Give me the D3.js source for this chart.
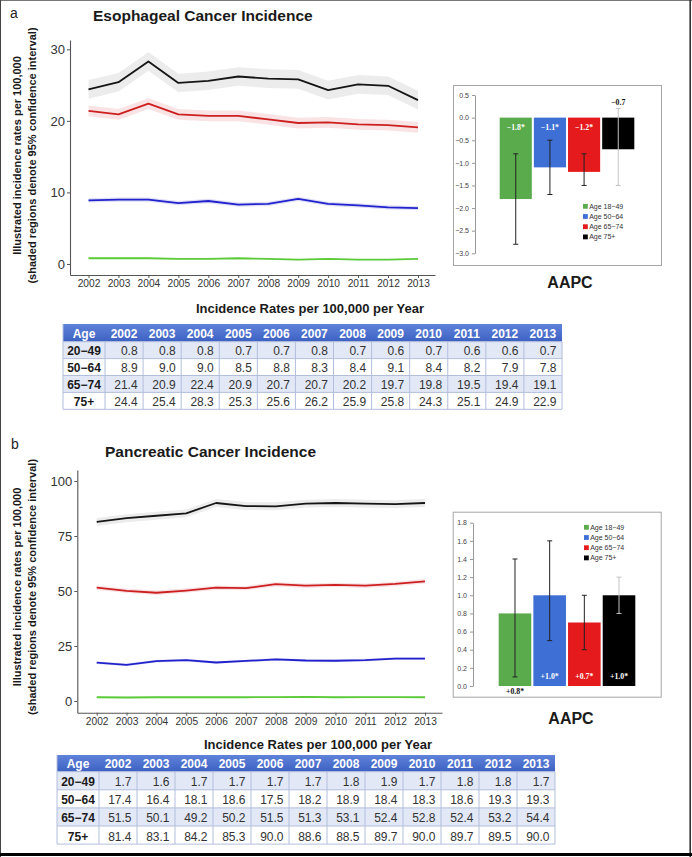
<!DOCTYPE html>
<html><head><meta charset="utf-8">
<script src="https://cdn.jsdelivr.net/npm/d3@7"></script>
<style>
html,body{margin:0;padding:0;background:#fff;}
svg{display:block;font-family:"Liberation Sans",Arial,sans-serif;}
</style></head><body>
<svg id="chart" width="692" height="857"></svg>
<script>
// ---------- DATA ----------
const years = [2002, 2003, 2004, 2005, 2006, 2007, 2008, 2009, 2010, 2011, 2012, 2013];
const ageGroups = ["20\u221249", "50\u221264", "65\u221274", "75+"];
const aapcGroups = ["Age 18\u221249", "Age 50\u221264", "Age 65\u221274", "Age 75+"];

// Esophageal incidence per 100,000
const esoAge20 = [0.8, 0.8, 0.8, 0.7, 0.7, 0.8, 0.7, 0.6, 0.7, 0.6, 0.6, 0.7];
const esoAge50 = [8.9, 9.0, 9.0, 8.5, 8.8, 8.3, 8.4, 9.1, 8.4, 8.2, 7.9, 7.8];
const esoAge65 = [21.4, 20.9, 22.4, 20.9, 20.7, 20.7, 20.2, 19.7, 19.8, 19.5, 19.4, 19.1];
const esoAge75 = [24.4, 25.4, 28.3, 25.3, 25.6, 26.2, 25.9, 25.8, 24.3, 25.1, 24.9, 22.9];
const esoCIhalf = [0.1, 0.3, 0.75, 1.3];
const esoYTicks = [0, 10, 20, 30];

// Pancreatic incidence per 100,000
const pancAge20 = [1.7, 1.6, 1.7, 1.7, 1.7, 1.7, 1.8, 1.9, 1.7, 1.8, 1.8, 1.7];
const pancAge50 = [17.4, 16.4, 18.1, 18.6, 17.5, 18.2, 18.9, 18.4, 18.3, 18.6, 19.3, 19.3];
const pancAge65 = [51.5, 50.1, 49.2, 50.2, 51.5, 51.3, 53.1, 52.4, 52.8, 52.4, 53.2, 54.4];
const pancAge75 = [81.4, 83.1, 84.2, 85.3, 90.0, 88.6, 88.5, 89.7, 90.0, 89.7, 89.5, 90.0];
const pancCIhalf = [0.3, 0.6, 1.0, 1.8];
const pancYTicks = [0, 25, 50, 75, 100];

// AAPC
const esoAAPC = [-1.8, -1.1, -1.2, -0.7];
const esoAAPCLow = [-2.8, -1.7, -1.5, -1.5];
const esoAAPCHigh = [-0.8, -0.5, -0.8, 0.2];
const esoAAPCText = ["\u22121.8*", "\u22121.1*", "\u22121.2*", "\u22120.7"];
const esoAAPCTicks = [0.5, 0.0, -0.5, -1.0, -1.5, -2.0, -2.5, -3.0];

const pancAAPC = [0.8, 1.0, 0.7, 1.0];
const pancAAPCLow = [0.1, 0.5, 0.4, 0.8];
const pancAAPCHigh = [1.4, 1.6, 1.0, 1.2];
const pancAAPCText = ["+0.8*", "+1.0*", "+0.7*", "+1.0*"];
const pancAAPCTicks = [0.0, 0.2, 0.4, 0.6, 0.8, 1.0, 1.2, 1.4, 1.6, 1.8];

// ---------- STYLES ----------
const lineColors = ["#5ccb3a", "#2222cc", "#cc2020", "#151515"];
const bandColors = ["#e6f6e0", "#dedef7", "#f9e3e5", "#ececec"];
const barColors = ["#5aab4c", "#3e6fd5", "#e41a1c", "#000000"];
const errColors = ["#222", "#222", "#222", "#c4c4c4"];

const svg = d3.select("#chart");
svg.append("rect").attr("width", 692).attr("height", 857).attr("fill", "#fff");

function linePanel(cfg) {
  const g = svg.append("g");
  const x = d3.scaleLinear().domain(cfg.xDomain).range(cfg.xRange);
  const y = d3.scaleLinear().domain(cfg.yDomain).range(cfg.yRange);

  g.append("text").attr("x", cfg.letterPos[0]).attr("y", cfg.letterPos[1])
    .attr("font-size", 14).attr("fill", "#222").text(cfg.letter);
  g.append("text").attr("x", cfg.titlePos[0]).attr("y", cfg.titlePos[1])
    .attr("font-size", 15.5).attr("font-weight", "bold").attr("fill", "#1a1a1a").text(cfg.title);

  cfg.series.forEach((vals, i) => {
    const pts = years.map((yr, j) => [yr, vals[j]]);
    const h = cfg.ci[i];
    g.append("path")
      .attr("d", d3.area().x(d => x(d[0])).y0(d => y(d[1] - h)).y1(d => y(d[1] + h))(pts))
      .attr("fill", bandColors[i]);
  });
  cfg.series.forEach((vals, i) => {
    const pts = years.map((yr, j) => [yr, vals[j]]);
    g.append("path")
      .attr("d", d3.line().x(d => x(d[0])).y(d => y(d[1]))(pts))
      .attr("fill", "none").attr("stroke", lineColors[i]).attr("stroke-width", 1.8)
      .attr("stroke-linejoin", "round");
  });

  const xa = g.append("g").attr("transform", `translate(0,${cfg.yRange[0]})`)
    .call(d3.axisBottom(x).tickValues(years).tickFormat(d3.format("d"))
      .tickSize(3).tickSizeOuter(0).tickPadding(2));
  const ya = g.append("g").attr("transform", `translate(${cfg.xRange[0]},0)`)
    .call(d3.axisLeft(y).tickValues(cfg.yTicks).tickFormat(d3.format("d"))
      .tickSize(3).tickSizeOuter(0).tickPadding(2));
  [xa, ya].forEach(a => {
    a.select(".domain").attr("stroke", "#555").attr("stroke-width", 1.1);
    a.selectAll(".tick line").attr("stroke", "#555");
    a.selectAll(".tick text").attr("fill", "#333").attr("font-family", "Liberation Sans, Arial, sans-serif");
  });
  xa.selectAll(".tick text").attr("font-size", 10.2);
  ya.selectAll(".tick text").attr("font-size", 13);

  const yl = g.append("g").attr("font-size", 11).attr("font-weight", "bold").attr("fill", "#1a1a1a")
    .attr("text-anchor", "middle");
  yl.append("text").attr("transform", `translate(${cfg.ylabX[0]},${cfg.ylabY}) rotate(-90)`)
    .text("Illustrated incidence rates per 100,000");
  yl.append("text").attr("transform", `translate(${cfg.ylabX[1]},${cfg.ylabY}) rotate(-90)`)
    .text("(shaded regions denote 95% confidence interval)");
}

function aapcBox(cfg) {
  const g = svg.append("g");
  const b = cfg.box;
  g.append("rect").attr("x", b.x + 0.5).attr("y", b.y + 0.5).attr("width", b.w).attr("height", b.h)
    .attr("fill", "#fff").attr("stroke", "#a6a6a6").attr("stroke-width", 1);
  const y = d3.scaleLinear().domain(b.yDomain).range(b.yRange);
  const x = d3.scaleBand().domain(aapcGroups).range(b.bandRange).paddingInner(0.06).paddingOuter(0.02);
  const ya = g.append("g").attr("transform", `translate(${b.axisX},0)`)
    .call(d3.axisLeft(y).tickValues(cfg.ticks).tickFormat(d3.format(".1f")).tickSize(3).tickSizeOuter(0).tickPadding(3));
  ya.select(".domain").attr("stroke", "#999");
  ya.selectAll(".tick line").attr("stroke", "#999");
  ya.selectAll(".tick text").attr("fill", "#444").attr("font-size", 7)
    .attr("font-family", "Liberation Sans, Arial, sans-serif");

  const zero = y(0);
  aapcGroups.forEach((grp, i) => {
    const v = cfg.values[i];
    g.append("rect").attr("x", x(grp)).attr("width", x.bandwidth())
      .attr("y", Math.min(y(v), zero)).attr("height", Math.abs(y(v) - zero))
      .attr("fill", barColors[i]);
  });
  aapcGroups.forEach((grp, i) => {
    const cx = x(grp) + x.bandwidth() / 2;
    const lo = y(cfg.low[i]), hi = y(cfg.high[i]);
    const eg = g.append("g").attr("stroke", errColors[i]).attr("stroke-width", 1);
    eg.append("line").attr("x1", cx).attr("x2", cx).attr("y1", lo).attr("y2", hi);
    eg.append("line").attr("x1", cx - 2.5).attr("x2", cx + 2.5).attr("y1", lo).attr("y2", lo);
    eg.append("line").attr("x1", cx - 2.5).attr("x2", cx + 2.5).attr("y1", hi).attr("y2", hi);
  });
  aapcGroups.forEach((grp, i) => {
    const cx = x(grp) + x.bandwidth() / 2;
    const pos = cfg.labelPos[i];
    let ty, col;
    if (pos === "inTop") { ty = zero + 12; col = "#fff"; }
    else if (pos === "inBottom") { ty = zero - 7.5; col = "#fff"; }
    else if (pos === "above") { ty = y(cfg.high[i]) - 4; col = "#111"; }
    else { ty = zero + 8; col = "#111"; }
    g.append("text").attr("x", cx).attr("y", ty).attr("text-anchor", "middle")
      .attr("font-family", "Liberation Serif, Times New Roman, serif").attr("font-weight", "bold")
      .attr("font-size", 7.8).attr("fill", col).text(cfg.text[i]);
  });
  const lg = g.append("g").attr("font-size", 7).attr("fill", "#333");
  aapcGroups.forEach((grp, i) => {
    const ly = cfg.legend[1] + i * 10.2;
    lg.append("rect").attr("x", cfg.legend[0]).attr("y", ly - 4.6).attr("width", 4.8).attr("height", 4.8)
      .attr("fill", barColors[i]);
    lg.append("text").attr("x", cfg.legend[0] + 6.2).attr("y", ly).text(grp);
  });
  g.append("text").attr("x", cfg.aapcTitle[0]).attr("y", cfg.aapcTitle[1]).attr("text-anchor", "middle")
    .attr("font-size", 16).attr("font-weight", "bold").attr("fill", "#1a1a1a").text("AAPC");
}

function rateTable(cfg) {
  const t = cfg.table;
  const g = svg.append("g");
  g.append("text").attr("x", cfg.tableTitle[0]).attr("y", cfg.tableTitle[1]).attr("text-anchor", "middle")
    .attr("font-size", 13).attr("font-weight", "bold").attr("fill", "#1a1a1a")
    .text("Incidence Rates per 100,000 per Year");
  const colW = (t.w - t.firstW) / years.length;
  const colX = i => t.x0 + t.firstW + i * colW;
  const right = t.x0 + t.w;
  const grad = svg.append("defs").append("linearGradient").attr("id", "hg" + cfg.letter)
    .attr("x1", 0).attr("y1", 0).attr("x2", 0).attr("y2", 1);
  grad.append("stop").attr("offset", 0).attr("stop-color", "#5f83da");
  grad.append("stop").attr("offset", 1).attr("stop-color", "#3d61c2");
  g.append("rect").attr("x", t.x0).attr("y", t.y0).attr("width", t.w).attr("height", t.headH)
    .attr("fill", `url(#hg${cfg.letter})`);
  const rowTop = r => t.y0 + t.headH + r * t.rowH;
  cfg.series.forEach((vals, r) => {
    g.append("rect").attr("x", t.x0).attr("y", rowTop(r)).attr("width", t.w).attr("height", t.rowH)
      .attr("fill", r % 2 === 0 ? "#e2e8f6" : "#ffffff");
  });
  const grid = g.append("g").attr("stroke", "#b3bedc").attr("stroke-width", 1);
  for (let r = 0; r <= cfg.series.length; r++) {
    grid.append("line").attr("x1", t.x0).attr("x2", right).attr("y1", rowTop(r)).attr("y2", rowTop(r));
  }
  grid.append("line").attr("x1", t.x0).attr("x2", t.x0).attr("y1", t.y0).attr("y2", rowTop(cfg.series.length));
  for (let i = 0; i <= years.length; i++) {
    grid.append("line").attr("x1", colX(i)).attr("x2", colX(i)).attr("y1", t.y0 + t.headH).attr("y2", rowTop(cfg.series.length));
  }
  const ht = g.append("g").attr("font-size", 12).attr("font-weight", "bold").attr("fill", "#fff").attr("text-anchor", "middle");
  ht.append("text").attr("x", t.x0 + t.firstW / 2).attr("y", t.y0 + t.headH - 3.5).text("Age");
  years.forEach((yr, i) => ht.append("text").attr("x", colX(i) + colW / 2).attr("y", t.y0 + t.headH - 3.5).text(yr));
  const fmt = d3.format(".1f");
  cfg.series.forEach((vals, r) => {
    const by = rowTop(r) + t.rowH - 3.6;
    g.append("text").attr("x", t.x0 + t.firstW / 2).attr("y", by).attr("text-anchor", "middle")
      .attr("font-size", 12).attr("font-weight", "bold").attr("fill", "#1a1a1a").text(ageGroups[r]);
    vals.forEach((v, i) => {
      g.append("text").attr("x", colX(i + 1) - 5.5).attr("y", by).attr("text-anchor", "end")
        .attr("font-size", 12).attr("fill", "#333").text(fmt(v));
    });
  });
}

const esoCfg = {
  letter: "a", letterPos: [10, 17.5], title: "Esophageal Cancer Incidence", titlePos: [93, 20.5],
  xDomain: [2001.382, 2013.568], xRange: [70, 435], yDomain: [-1.54, 31.3], yRange: [275, 40],
  yTicks: esoYTicks, ylabX: [20.5, 36], ylabY: 155.5,
  series: [esoAge20, esoAge50, esoAge65, esoAge75], ci: esoCIhalf,
  tableTitle: [310, 312.7],
  table: { x0: 63, y0: 324, w: 499, firstW: 42, headH: 17.7, rowH: 16.9 },
  box: { x: 453, y: 85, w: 208, h: 180, axisX: 475, yDomain: [-3, 0.5], yRange: [253.3, 95], bandRange: [499, 635] },
  ticks: esoAAPCTicks, values: esoAAPC, low: esoAAPCLow, high: esoAAPCHigh, text: esoAAPCText,
  labelPos: ["inTop", "inTop", "inTop", "above"],
  legend: [583, 208.5], aapcTitle: [570, 288]
};
const pancCfg = {
  letter: "b", letterPos: [11, 448.5], title: "Pancreatic Cancer Incidence", titlePos: [105, 457],
  xDomain: [2001.35, 2013.57], xRange: [77.3, 442], yDomain: [-5.32, 105], yRange: [712.7, 470],
  yTicks: pancYTicks, ylabX: [20.5, 35.5], ylabY: 587,
  series: [pancAge20, pancAge50, pancAge65, pancAge75], ci: pancCIhalf,
  tableTitle: [318, 749.3],
  table: { x0: 57, y0: 755, w: 498, firstW: 42, headH: 16.7, rowH: 18.1 },
  box: { x: 452.7, y: 511.7, w: 208, h: 185, axisX: 473, yDomain: [0, 1.8], yRange: [686, 522.7], bandRange: [498, 636] },
  ticks: pancAAPCTicks, values: pancAAPC, low: pancAAPCLow, high: pancAAPCHigh, text: pancAAPCText,
  labelPos: ["below", "inBottom", "inBottom", "inBottom"],
  legend: [584, 529.5], aapcTitle: [571, 724]
};

[esoCfg, pancCfg].forEach(c => { linePanel(c); aapcBox(c); rateTable(c); });

// figure frame
svg.append("line").attr("x1", 0).attr("x2", 692).attr("y1", 0.5).attr("y2", 0.5).attr("stroke", "#777");
svg.append("line").attr("x1", 0.5).attr("x2", 0.5).attr("y1", 0).attr("y2", 857).attr("stroke", "#444");
svg.append("line").attr("x1", 690.2).attr("x2", 690.2).attr("y1", 0).attr("y2", 857).attr("stroke", "#333").attr("stroke-width", 1.6);
svg.append("line").attr("x1", 0).attr("x2", 692).attr("y1", 854.5).attr("y2", 854.5).attr("stroke", "#000").attr("stroke-width", 3);
</script>
</body></html>
